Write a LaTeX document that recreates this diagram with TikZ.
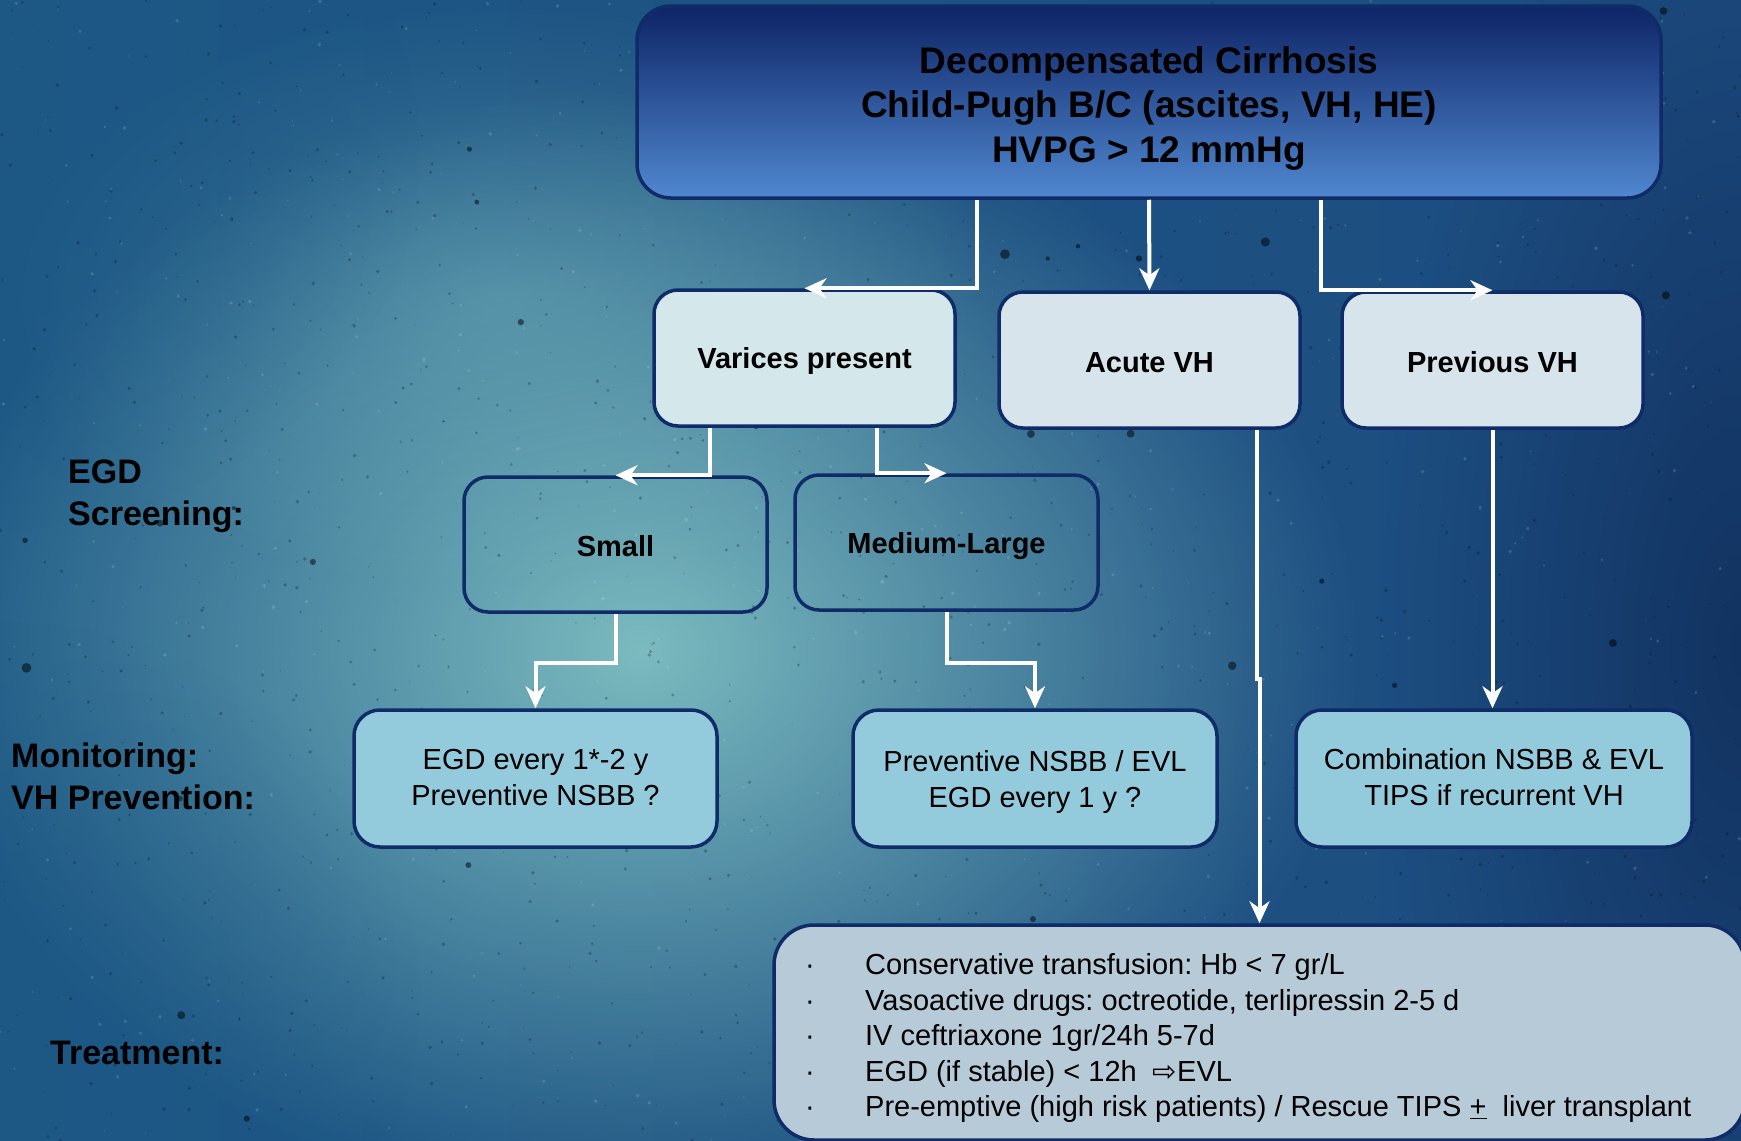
\documentclass[tikz,border=0pt]{standalone}
\usepackage{fontspec}
\setmainfont{Liberation Sans}
\newfontfamily\symfont{DejaVu Sans}
\usetikzlibrary{arrows.meta,fadings,calc}
\frenchspacing
\tikzfading[name=fuzzyblob, inner color=transparent!0, outer color=transparent!100]
\newcommand\lowtext[2]{\raisebox{-#1}[\height][\depth]{#2}}
\newcommand\lowlines[2]{\raisebox{-#1}[\height][\depth]{\begin{tabular}{@{}c@{}}#2\end{tabular}}}
\definecolor{navy}{HTML}{0F2B68}
\definecolor{bgleft}{HTML}{1D5885}
\definecolor{bgmid}{HTML}{3B86A2}
\definecolor{bgright}{HTML}{1D4C80}
\definecolor{bglight}{HTML}{86C6C6}
\definecolor{bgdark}{HTML}{0F2D5A}
\definecolor{topdark}{HTML}{0E2466}
\definecolor{toplight}{HTML}{5088D0}
\definecolor{palebox}{HTML}{D8E4EB}
\definecolor{palecyan}{HTML}{D4E7EB}
\definecolor{cyanbox}{HTML}{93CBDC}
\definecolor{greybox}{HTML}{B7CAD8}
\tikzset{
  boxbase/.style={draw=navy, line width=3.5pt, text=black, align=center, inner sep=0pt},
  topbox/.style={boxbase, rounded corners=34pt, top color=topdark, bottom color=toplight,
     minimum width=1024pt, minimum height=192pt, font=\bfseries\fontsize{37}{44.5}\selectfont},
  lvlbox/.style={boxbase, rounded corners=24pt, fill=palebox, minimum width=301pt, minimum height=136pt,
     font=\bfseries\fontsize{29}{35}\selectfont},
  sizebox/.style={boxbase, rounded corners=24pt, minimum width=303pt, minimum height=135pt,
     font=\bfseries\fontsize{29}{35}\selectfont},
  monbox/.style={boxbase, rounded corners=26pt, fill=cyanbox, minimum height=137pt,
     font=\fontsize{29}{35.5}\selectfont},
  treatbox/.style={boxbase, rounded corners=40pt, fill=greybox, minimum width=971pt, minimum height=215pt},
  sidelabel/.style={anchor=west, align=left, inner sep=0pt, text=black, font=\bfseries\fontsize{34}{42}\selectfont},
  conn/.style={draw=white, line width=4pt, -{Stealth[length=22pt,width=20pt,inset=7pt]}}
}
\begin{document}
\begin{tikzpicture}[x=1pt,y=1pt]
\useasboundingbox (0,0) rectangle (1741,-1141);
% background
\shade[left color=bgleft, middle color=bgmid, right color=bgright] (0,0) rectangle (1741,-1141);
\fill[bglight, opacity=0.9, path fading=fuzzyblob] (640,-650) ellipse [x radius=720, y radius=560];
\fill[bglight, opacity=0.35, path fading=fuzzyblob] (500,-300) ellipse [x radius=500, y radius=300];
\fill[bgdark, opacity=0.8, path fading=fuzzyblob] (1741,-650) ellipse [x radius=360, y radius=820];
\fill[bgleft, opacity=0.6, path fading=fuzzyblob] (0,-150) ellipse [x radius=420, y radius=380];
\fill[bgleft, opacity=0.55, path fading=fuzzyblob] (0,-1000) ellipse [x radius=420, y radius=380];
\pgfmathsetseed{17}
\foreach \i in {1,...,1400}{
  \pgfmathsetmacro\px{rnd*1741}
  \pgfmathsetmacro\py{-rnd*1141}
  \pgfmathsetmacro\pr{0.5+rnd*1.4}
  \fill[black!80!navy, opacity=0.28] (\px,\py) circle (\pr);
}
\foreach \i in {1,...,40}{
  \pgfmathsetmacro\px{rnd*1741}
  \pgfmathsetmacro\py{-rnd*1141}
  \pgfmathsetmacro\pr{2+rnd*3}
  \fill[black, opacity=0.5] (\px,\py) circle (\pr);
}
\foreach \i in {1,...,500}{
  \pgfmathsetmacro\px{rnd*1741}
  \pgfmathsetmacro\py{-rnd*1141}
  \pgfmathsetmacro\pr{0.6+rnd*1.4}
  \fill[white, opacity=0.15] (\px,\py) circle (\pr);
}

% side labels
\node[sidelabel] (lscreen) at (68,-496) {EGD\\Screening:};
\node[sidelabel] (lmon) at (11,-776) {Monitoring:\\VH Prevention:};
\node[sidelabel] (ltreat) at (50,-1053) {Treatment:};

% nodes
\node[topbox] (top) at (1149,-102) {\lowlines{7pt}{Decompensated Cirrhosis\\Child-Pugh B/C (ascites, VH, HE)\\HVPG > 12 mmHg}};
\node[lvlbox, fill=palecyan] (var) at (804.5,-358) {\lowtext{3pt}{Varices present}};
\node[lvlbox] (acute) at (1149.5,-360) {\lowtext{3pt}{Acute VH}};
\node[lvlbox] (prev) at (1492.5,-360) {\lowtext{2pt}{Previous VH}};
\node[sizebox] (small) at (615.5,-544.5) {\lowtext{2pt}{Small}};
\node[sizebox] (med) at (946.5,-542.5) {\lowtext{4pt}{Medium-Large}};
\node[monbox, minimum width=363pt] (egd) at (535.5,-778.5) {\lowlines{2pt}{EGD every 1*-2 y\\Preventive NSBB ?}};
\node[monbox, minimum width=364pt] (prevent) at (1035,-778.5) {\lowlines{4pt}{Preventive NSBB / EVL\\EGD every 1 y ?}};
\node[monbox, minimum width=396pt] (comb) at (1494,-778.5) {\lowlines{2pt}{Combination NSBB \& EVL\\TIPS if recurrent VH}};
\node[treatbox] (treat) at (1259.5,-1032.5) {};
\node[anchor=west, align=left, inner sep=0pt, font=\fontsize{29}{35.5}\selectfont] (treattext) at (805,-1038)
{\makebox[60pt][l]{·}Conservative transfusion: Hb < 7 gr/L\\
 \makebox[60pt][l]{·}Vasoactive drugs: octreotide, terlipressin 2-5 d\\
 \makebox[60pt][l]{·}IV ceftriaxone 1gr/24h 5-7d\\
 \makebox[60pt][l]{·}EGD (if stable) < 12h\ \ {\symfont ⇨}EVL\\
 \makebox[60pt][l]{·}Pre-emptive (high risk patients) / Rescue TIPS \underline{+}\ \ liver transplant};

% connectors
\draw[conn] ([xshift=-172pt]top.south) |- (var.north);
\draw[conn] (top.south) -- (acute.north);
\draw[conn] ([xshift=172pt]top.south) |- (prev.north);
\draw[conn] ([xshift=-95pt]var.south) |- (small.north);
\draw[conn] ([xshift=72pt]var.south) |- (med.north);
\draw[conn] (small.south) -- ++(0,-49) -| (egd.north);
\draw[conn] (med.south) -- ++(0,-51) -| (prevent.north);
\draw[conn] ([xshift=107pt]acute.south) -- ++(0,-249) -| (treat.north);
\draw[conn] (prev.south) -- (prev.south |- comb.north);
\end{tikzpicture}
\end{document}
